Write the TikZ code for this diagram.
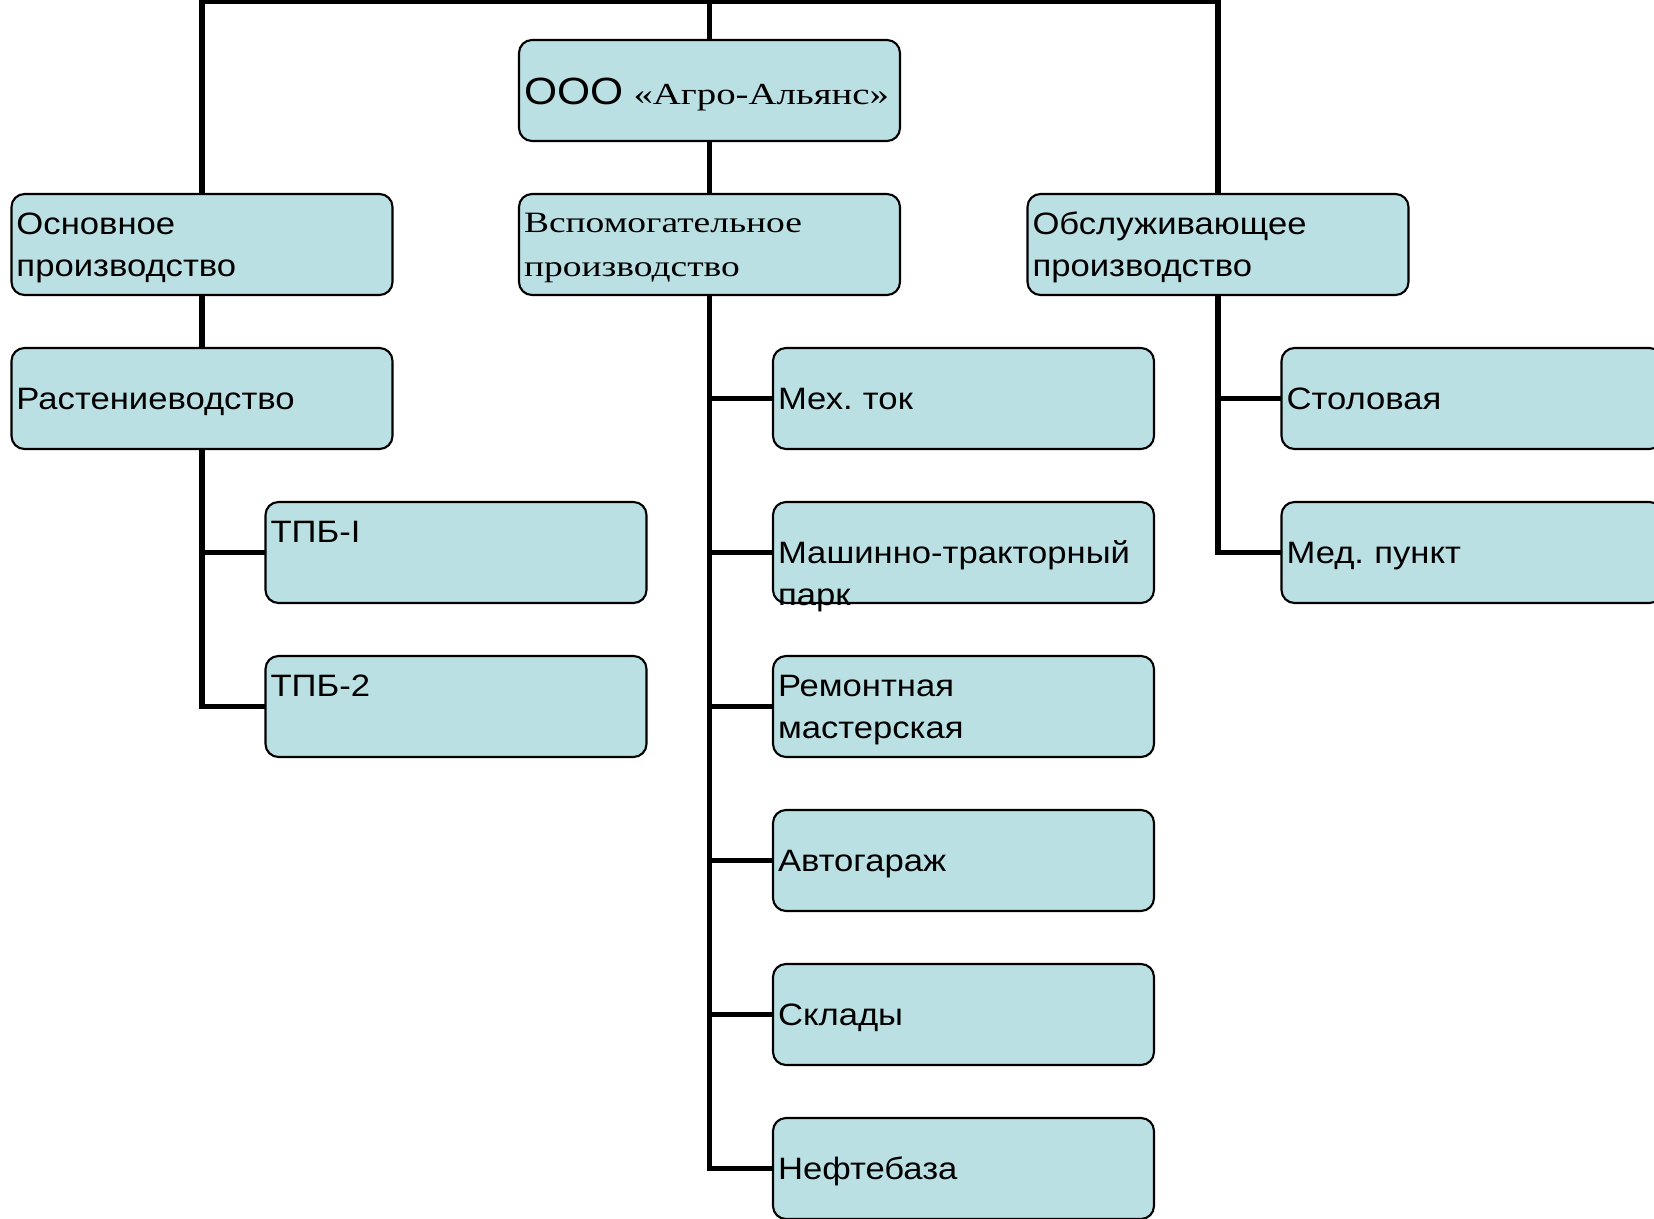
\documentclass[tikz,border=0pt]{standalone}
\usepackage{fontspec}
\setmainfont{Liberation Serif}[FakeStretch=1.27]
\setsansfont{Liberation Sans}[FakeStretch=1.12]
\usetikzlibrary{positioning}
\frenchspacing

\definecolor{unitfill}{RGB}{187,224,227}

\tikzset{
  unit/.style={draw=black, fill=unitfill, rounded corners=0.13cm, line width=0.6pt,
    minimum width=3.81cm, minimum height=1.01cm, text width=3.71cm,
    inner xsep=0.05cm, inner ysep=0pt, outer sep=0pt, align=left,
    font=\sffamily\fontsize{8.8}{11.95}\selectfont,
    text height=6.3pt, text depth=0pt},
  twolines/.style={text depth=11.95pt},
  serifunit/.style={font=\rmfamily\fontsize{8.4}{12.4}\selectfont,
    text height=5.6pt, text depth=12.4pt},
  link/.style={line width=1.7pt}
}

\begin{document}
\begin{tikzpicture}
\useasboundingbox (0,0) rectangle (16.54,-12.19);

% top of the tree
\node[unit, text height=7.7pt] (root) at (7.095,-0.905)
  {{\fontsize{10.8}{12}\selectfont ООО} {\rmfamily\fontsize{8.7}{12}\selectfont «Агро-Альянс»}};
\node[unit, twolines] (osn) at (2.02,-2.445) {Основное\\производство};
\node[unit, serifunit] (vsp) at (7.095,-2.445) {Вспомогательное\\производство};
\node[unit, twolines] (obs) at (12.18,-2.445) {Обслуживающее\\производство};

% main production
\node[unit, below=0.53cm of osn] (rast) {Растениеводство};
\node[unit, twolines] (tpb1) at (4.56,-5.525) {ТПБ-I};
\node[unit, twolines, below=0.53cm of tpb1] (tpb2) {ТПБ-2};

% auxiliary production
\node[unit] (mex) at (9.635,-3.985) {Мех. ток};
\node[unit, below=0.53cm of mex] (mtp) {Машинно-тракторный\\парк};
\node[unit, twolines, below=0.53cm of mtp] (rem) {Ремонтная\\мастерская};
\node[unit, below=0.53cm of rem] (avto) {Автогараж};
\node[unit, below=0.53cm of avto] (skl) {Склады};
\node[unit, below=0.53cm of skl] (neft) {Нефтебаза};

% service production
\node[unit] (stol) at (14.72,-3.985) {Столовая};
\node[unit, below=0.53cm of stol] (med) {Мед. пункт};

% connectors
\coordinate (top) at (7.095,-0.012);
\draw[link] (osn.north) |- (top) -| (obs.north);
\draw[link] (top) -- (root.north);
\draw[link] (root.south) -- (vsp.north);
\draw[link] (osn.south) -- (rast.north);
\draw[link] (rast.south) |- (tpb2.west);
\draw[link] (rast.south |- tpb1.west) -- (tpb1.west);
\draw[link] (vsp.south) |- (neft.west);
\foreach \n in {mex,mtp,rem,avto,skl}
  \draw[link] (vsp.south |- \n.west) -- (\n.west);
\draw[link] (obs.south) |- (med.west);
\draw[link] (obs.south |- stol.west) -- (stol.west);
\end{tikzpicture}
\end{document}
